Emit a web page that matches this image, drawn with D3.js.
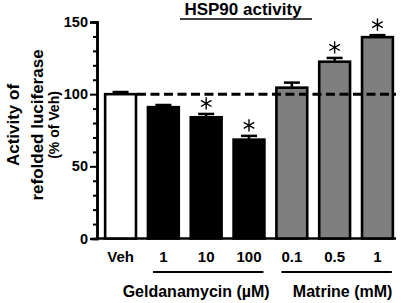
<!DOCTYPE html>
<html>
<head>
<meta charset="utf-8">
<script src="https://cdn.jsdelivr.net/npm/d3@7"></script>
<style>
  body { margin: 0; background: #fff; }
  text { font-family: Arial, "Liberation Sans", sans-serif; font-weight: bold; }
</style>
</head>
<body>
<div id="chart"></div>
<script>
// data
var labels = ["Veh", "1", "10", "100", "0.1", "0.5", "1"];
var groups = ["veh", "gel", "gel", "gel", "mat", "mat", "mat"];
var values = [100, 91, 84, 68.5, 104.5, 122.5, 139.5];
var errors = [1.5, 1.5, 2.3, 2.6, 3.5, 2.6, 1.4];
var signif = [false, false, true, true, false, true, true];
var yTicks = [0, 50, 100, 150];

var fills = {veh: "#ffffff", gel: "#000000", mat: "#7f7f7f"};

var width = 404, height = 303;
var margin = {top: 22, right: 7, bottom: 64.5, left: 97};
var w = width - margin.left - margin.right,
    h = height - margin.top - margin.bottom;

var svg = d3.select("#chart")
  .append("svg")
    .attr("width", width)
    .attr("height", height)
  .append("g")
    .attr("transform", "translate(" + margin.left + "," + margin.top + ")");

var y = d3.scaleLinear()
    .domain([0, 150])
    .range([h, 0]);

var x = d3.scaleBand()
    .domain(d3.range(labels.length))
    .range([6, w - 2])
    .paddingInner(0.28)
    .paddingOuter(0.05);

// y axis with minor ticks
var yAxis = svg.append("g")
    .call(d3.axisLeft(y).tickValues(yTicks).tickSize(7).tickPadding(2));
svg.append("g")
    .call(d3.axisLeft(y).tickValues(d3.range(0, 151, 10).filter(d => d % 50)).tickSize(4).tickFormat(""));
svg.selectAll(".domain").attr("stroke-width", 2.5);
svg.selectAll(".tick line").attr("stroke-width", 2);
yAxis.selectAll("text").style("font-size", "14.5px").attr("fill", "#000");

// x axis line
svg.append("line")
    .attr("x1", 0).attr("x2", w - 1)
    .attr("y1", h).attr("y2", h)
    .attr("stroke", "#000").attr("stroke-width", 2.5);

// bars
svg.selectAll("rect.bar")
  .data(values)
  .enter().append("rect")
    .attr("class", "bar")
    .attr("x", (d, i) => x(i))
    .attr("y", d => y(d))
    .attr("width", x.bandwidth())
    .attr("height", d => h - y(d))
    .attr("fill", (d, i) => fills[groups[i]])
    .attr("stroke", "#000")
    .attr("stroke-width", 2.6);

// error bars (upper only)
var eb = svg.selectAll("g.err")
  .data(values)
  .enter().append("g");
eb.append("line")
    .attr("x1", (d, i) => x(i) + x.bandwidth() / 2)
    .attr("x2", (d, i) => x(i) + x.bandwidth() / 2)
    .attr("y1", d => y(d))
    .attr("y2", (d, i) => y(d + errors[i]))
    .attr("stroke", "#000").attr("stroke-width", 2.5);
eb.append("line")
    .attr("x1", (d, i) => x(i) + x.bandwidth() / 2 - 8)
    .attr("x2", (d, i) => x(i) + x.bandwidth() / 2 + 8)
    .attr("y1", (d, i) => y(d + errors[i]))
    .attr("y2", (d, i) => y(d + errors[i]))
    .attr("stroke", "#000").attr("stroke-width", 2.5);

// reference line at 100
svg.append("line")
    .attr("x1", x(0) + x.bandwidth() + 1)
    .attr("x2", w - 1)
    .attr("y1", y(100)).attr("y2", y(100))
    .attr("stroke", "#000").attr("stroke-width", 3)
    .attr("stroke-dasharray", "9,4.5");

// asterisks
var star = d3.symbol().type(d3.symbolAsterisk).size(105);
svg.selectAll("path.star")
  .data(values.map((v, i) => ({v: v, i: i})).filter(d => signif[d.i]))
  .enter().append("path")
    .attr("transform", d => "translate(" + (x(d.i) + x.bandwidth() / 2) + "," + (y(d.v + errors[d.i]) - 10.5) + ")")
    .attr("d", star)
    .attr("fill", "none")
    .attr("stroke", "#000")
    .attr("stroke-width", 1.4);

// category labels
svg.selectAll("text.cat")
  .data(labels)
  .enter().append("text")
    .attr("x", (d, i) => x(i) + x.bandwidth() / 2)
    .attr("y", h + 23)
    .attr("text-anchor", "middle")
    .style("font-size", "15px")
    .text(d => d);

// group brackets
var brackets = [
  {name: "Geldanamycin (\u00b5M)", from: 1, to: 3, dx: -10},
  {name: "Matrine (mM)", from: 4, to: 6, dx: 8}
];
brackets.forEach(function(b) {
  var x1 = x(b.from) + 5, x2 = x(b.to) + x.bandwidth() - 1;
  svg.append("line")
      .attr("x1", x1).attr("x2", x2)
      .attr("y1", h + 33.5).attr("y2", h + 33.5)
      .attr("stroke", "#000").attr("stroke-width", 2);
  svg.append("text")
      .attr("x", (x(b.from) + x(b.to) + x.bandwidth()) / 2 + b.dx)
      .attr("y", h + 58)
      .attr("text-anchor", "middle")
      .style("font-size", "16px")
      .text(b.name);
});

// title
svg.append("text")
    .attr("x", 146)
    .attr("y", -7)
    .attr("text-anchor", "middle")
    .style("font-size", "17px")
    .text("HSP90 activity");
svg.append("line")
    .attr("x1", 83).attr("x2", 215)
    .attr("y1", -3).attr("y2", -3)
    .attr("stroke", "#000").attr("stroke-width", 1.5);

// y label
var yl = svg.append("text")
    .attr("transform", "translate(" + (-margin.left) + "," + (125 - margin.top) + ") rotate(-90)")
    .attr("text-anchor", "middle");
yl.append("tspan").attr("x", 0).attr("y", 19).style("font-size", "17px").text("Activity of");
yl.append("tspan").attr("x", 0).attr("y", 43).style("font-size", "17px").text("refolded luciferase");
yl.append("tspan").attr("x", 0).attr("y", 59).style("font-size", "14px").text("(% of Veh)");
</script>
</body>
</html>
